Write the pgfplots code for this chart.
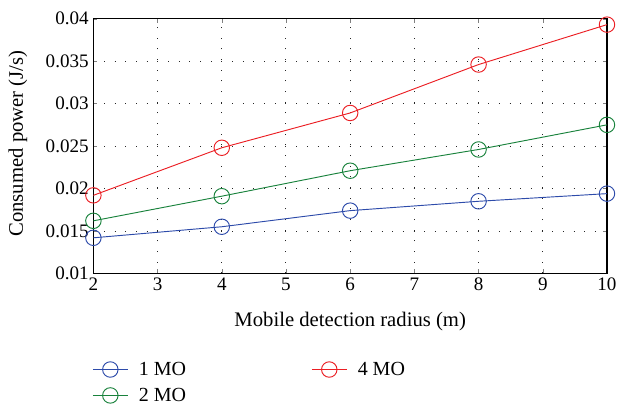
\documentclass[border=0pt]{standalone}
\usepackage{fontspec}
\setmainfont{Liberation Serif}
\usepackage{pgfplots}
\pgfplotsset{compat=1.18}

\definecolor{moblue}{RGB}{45,75,170}
\definecolor{mored}{RGB}{235,30,35}
\definecolor{mogreen}{RGB}{25,130,60}

\begin{document}
\begin{tikzpicture}
\begin{axis}[
    scale only axis,
    width=385pt, height=191pt,
    xmin=2, xmax=10, ymin=0.01, ymax=0.04,
    xtick={2,3,...,10},
    ytick={0.01,0.015,0.02,0.025,0.03,0.035,0.04},
    /pgf/number format/assume math mode=true,
    yticklabel style={/pgf/number format/fixed, /pgf/number format/precision=3},
    scaled y ticks=false,
    tick align=inside, tick pos=both,
    major tick length=3pt,
    axis line style={line width=0.9pt},
    grid=major,
    major grid style={black!85, line width=0.75pt, dash pattern=on 0.75pt off 7.25pt},
    tick label style={font=\fontsize{14.3}{16}\selectfont},
    label style={font=\fontsize{15.5}{17}\selectfont},
    xlabel={Mobile detection radius (m)},
    ylabel={Consumed power (J/s)},
    xlabel style={at={(axis description cs:0.5,-0.19)}, anchor=center},
    ylabel style={at={(axis description cs:-0.147,0.51)}, anchor=center},
    legend columns=2,
    legend style={draw=none, at={(-0.01,-0.325)}, anchor=north west,
        font=\fontsize{15}{17}\selectfont,
        /tikz/every odd column/.append style={column sep=6pt},
        /tikz/every even column/.append style={column sep=92pt},
        row sep=4pt},
    legend cell align=left,
    legend image code/.code={
        \draw[mark repeat=2, mark phase=2] plot coordinates {(0pt,0pt) (13pt,0pt) (26pt,0pt)};
    },
    every axis plot/.append style={line width=0.7pt, mark=o, mark size=5.8pt},
]
\addplot[moblue] coordinates {(2,0.0142) (4,0.0155) (6,0.0174) (8,0.0185) (10,0.0194)};
\addlegendentry{1 MO}
\addplot[mored] coordinates {(2,0.0192) (4,0.0248) (6,0.0289) (8,0.0346) (10,0.0393)};
\addlegendentry{4 MO}
\addplot[mogreen] coordinates {(2,0.0162) (4,0.0191) (6,0.0221) (8,0.0246) (10,0.0275)};
\addlegendentry{2 MO}
\end{axis}
\pgfresetboundingbox
\path (current axis.south west) ++(-70pt,-105pt) rectangle ++(464pt,310pt);
\end{tikzpicture}
\end{document}
